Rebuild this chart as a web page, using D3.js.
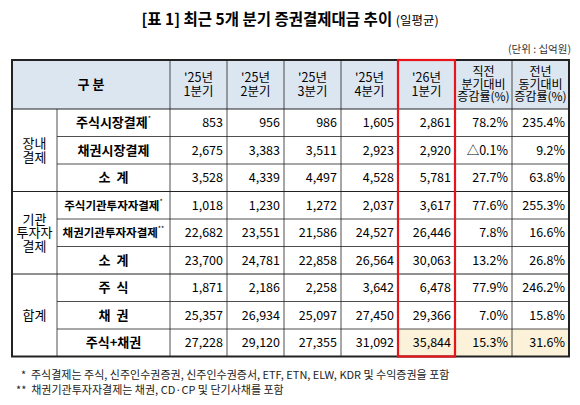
<!DOCTYPE html>
<html><head><meta charset="utf-8">
<script src="https://cdn.jsdelivr.net/npm/d3@7"></script>
<style>body{margin:0;background:#fff;font-family:"Noto Sans CJK KR",sans-serif}</style>
</head><body><svg id="c" width="580" height="405"></svg>
<script>
var quarters = ["'25년|1분기", "'25년|2분기", "'25년|3분기", "'25년|4분기", "'26년|1분기"];
var rowLabels = ["주식시장결제", "채권시장결제", "소  계", "주식기관투자자결제", "채권기관투자자결제", "소  계", "주  식", "채  권", "주식+채권"];
var marks = ["*", "", "", "*", "**", "", "", "", ""];
var groups = [["장내|결제", 0, 3], ["기관|투자자|결제", 3, 6], ["합계", 6, 9]];
var values = [
  [853, 956, 986, 1605, 2861],
  [2675, 3383, 3511, 2923, 2920],
  [3528, 4339, 4497, 4528, 5781],
  [1018, 1230, 1272, 2037, 3617],
  [22682, 23551, 21586, 24527, 26446],
  [23700, 24781, 22858, 26564, 30063],
  [1871, 2186, 2258, 3642, 6478],
  [25357, 26934, 25097, 27450, 29366],
  [27228, 29120, 27355, 31092, 35844]
];
var qoq = ["78.2%", "△0.1%", "27.7%", "77.6%", "7.8%", "13.2%", "77.9%", "7.0%", "15.3%"];
var yoy = ["235.4%", "9.2%", "63.8%", "255.3%", "16.6%", "26.8%", "246.2%", "15.8%", "31.6%"];
var notes = ["  *  주식결제는 주식, 신주인수권증권, 신주인수권증서, ETF, ETN, ELW, KDR 및 수익증권을 포함",
             "**  채권기관투자자결제는 채권, CD·CP 및 단기사채를 포함"];

(function() {
var svg = d3.select('#c');
var colX = [12, 57, 170, 227, 284, 341, 398, 455, 512, 569];
var tTop = 60, headH = 49, rowH = 27.5;
var y = d3.scaleBand().domain(d3.range(9)).range([tTop + headH, tTop + headH + rowH * 9]);
var bottom = tTop + headH + rowH * 9;
var fmt = d3.format(',');

svg.append('text').attr('x', 290).attr('y', 25).attr('text-anchor', 'middle')
  .style('font-size', '15.5px').style('font-weight', 'bold')
  .text('[표 1] 최근 5개 분기 증권결제대금 추이 ')
  .append('tspan').style('font-weight', 'normal').style('font-size', '12.5px').text('(일평균)');
svg.append('text').attr('x', 571).attr('y', 53).attr('text-anchor', 'end')
  .style('font-size', '10.5px').style('fill', '#333').text('(단위 : 십억원)');

// header + highlighted cells
svg.append('rect').attr('x', 12).attr('y', tTop).attr('width', 557).attr('height', headH).attr('fill', '#dce6f1');
svg.append('rect').attr('x', colX[6]).attr('y', y(8)).attr('width', colX[9] - colX[6]).attr('height', rowH).attr('fill', '#fcf2da');

function multiline(x, cy, lines, size, bold) {
  var t = svg.append('text').attr('x', x).attr('text-anchor', 'middle')
    .style('font-size', size + 'px').style('font-weight', bold ? 'bold' : 'normal');
  var lh = size * 1.05;
  lines.forEach(function(l, i) {
    t.append('tspan').attr('x', x).attr('y', cy + (i - (lines.length - 1) / 2) * lh + size * 0.36).text(l);
  });
}
multiline((colX[0] + colX[2]) / 2, tTop + headH / 2, ['구    분'], 13, true);
quarters.forEach(function(q, i) {
  multiline((colX[i + 2] + colX[i + 3]) / 2, tTop + headH / 2, q.split('|'), 12.5, false);
});
multiline((colX[7] + colX[8]) / 2, tTop + headH / 2, ['직전', '분기대비', '증감률(%)'], 12, false);
multiline((colX[8] + colX[9]) / 2, tTop + headH / 2, ['전년', '동기대비', '증감률(%)'], 12, false);

groups.forEach(function(g) {
  multiline((colX[0] + colX[1]) / 2, (y(g[1]) + y(g[2] - 1) + rowH) / 2, g[0].split('|'), 13, false);
});

rowLabels.forEach(function(l, i) {
  var cy = y(i) + rowH / 2 + 4.5;
  var t = svg.append('text').attr('x', (colX[1] + colX[2]) / 2).attr('y', cy).attr('text-anchor', 'middle')
    .style('font-size', l.length > 8 ? '11.5px' : '13px').style('font-weight', 'bold').attr('xml:space', 'preserve').text(l);
  if (marks[i]) t.append('tspan').attr('dy', -6).style('font-size', '7px').style('font-weight', 'normal').text(marks[i]);
  values[i].forEach(function(v, j) {
    svg.append('text').attr('x', colX[j + 3] - 4).attr('y', cy).attr('text-anchor', 'end')
      .style('font-size', '12.5px').text(fmt(v));
  });
  svg.append('text').attr('x', colX[8] - 4).attr('y', cy).attr('text-anchor', 'end').style('font-size', '12.5px').text(qoq[i]);
  svg.append('text').attr('x', colX[9] - 4).attr('y', cy).attr('text-anchor', 'end').style('font-size', '12.5px').text(yoy[i]);
});

// grid lines
var dark = '#222';
d3.range(1, 9).forEach(function(i) {
  var sep = groups.some(function(g) { return g[1] === i; });
  svg.append('line').attr('x1', sep ? 12 : colX[1]).attr('x2', 569).attr('y1', y(i)).attr('y2', y(i))
    .attr('stroke', dark).attr('stroke-width', sep ? 1 : 0.8);
});
svg.append('line').attr('x1', 12).attr('x2', 569).attr('y1', tTop + headH).attr('y2', tTop + headH).attr('stroke', dark);
colX.slice(1, -1).forEach(function(x, k) {
  svg.append('line').attr('x1', x).attr('x2', x).attr('y1', k === 0 ? tTop + headH : tTop).attr('y2', bottom)
    .attr('stroke', dark).attr('stroke-width', 0.8);
});
svg.append('rect').attr('x', 12).attr('y', tTop).attr('width', 557).attr('height', bottom - tTop)
  .attr('fill', 'none').attr('stroke', dark).attr('stroke-width', 2);
svg.append('rect').attr('x', colX[6]).attr('y', tTop).attr('width', colX[7] - colX[6]).attr('height', bottom - tTop)
  .attr('fill', 'none').attr('stroke', '#e8141c').attr('stroke-width', 2.2);

notes.forEach(function(n, i) {
  svg.append('text').attr('x', 16).attr('y', 379 + i * 15).attr('xml:space', 'preserve')
    .style('font-size', '11px').style('fill', '#222').text(n);
});
})();
</script></body></html>
